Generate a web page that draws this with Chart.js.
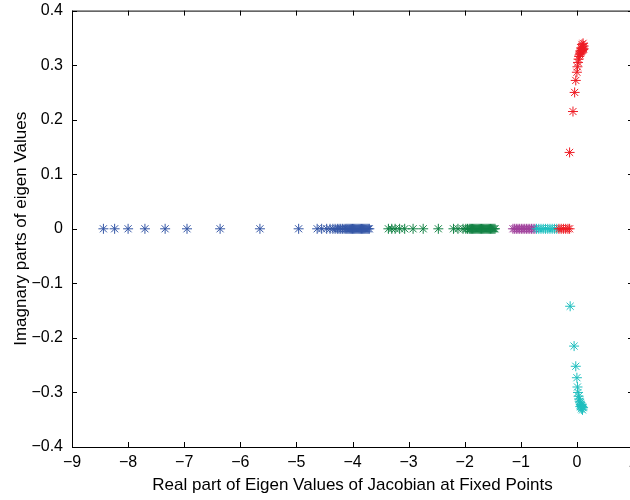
<!DOCTYPE html>
<html>
<head>
<meta charset="utf-8">
<script src="https://cdn.jsdelivr.net/npm/chart.js@4/dist/chart.umd.min.js"></script>
<style>
  html, body { margin: 0; padding: 0; background: #fff; overflow: hidden; }
  #wrap { width: 645px; height: 508px; margin-top: -8px; }
</style>
</head>
<body>
<div id="wrap"><canvas id="eigChart" width="645" height="508"></canvas></div>
<script>
// real eigenvalues (imaginary part 0)
const blueRe = [-8.44, -8.24, -8.0, -7.7, -7.34, -6.95, -6.36, -5.65, -4.96, -4.63, -4.55, -4.46, -4.4,
  -4.35, -4.31, -4.27, -4.24, -4.21, -4.18, -4.15, -4.12, -4.1, -4.08, -4.06, -4.04, -4.02, -4.0,
  -3.98, -3.96, -3.94, -3.92, -3.9, -3.88, -3.86, -3.84, -3.82, -3.8, -3.78, -3.76, -3.74, -3.72, -3.7];
const greenRe = [-3.36, -3.3, -3.24, -3.16, -3.07, -2.92, -2.74, -2.47, -2.2, -2.12, -2.03,
  -1.98, -1.95, -1.92, -1.9, -1.88, -1.86, -1.84, -1.82, -1.8, -1.78, -1.76, -1.74, -1.72, -1.7,
  -1.68, -1.66, -1.64, -1.62, -1.6, -1.58, -1.56, -1.54, -1.52, -1.5, -1.48, -1.46];
const magentaRe = [-1.14, -1.11, -1.08, -1.05, -1.02, -0.99, -0.96, -0.93, -0.9, -0.87, -0.84, -0.81, -0.78, -0.75];
const cyanRe = [-0.72, -0.68, -0.64, -0.6, -0.56, -0.52, -0.48, -0.44, -0.4, -0.36];
const redRe = [-0.32, -0.28, -0.24, -0.2, -0.16, -0.13];

// complex pairs
const redCplxRe = [-0.13, -0.07, -0.04, -0.02, 0.0, 0.01, 0.02, 0.03, 0.04, 0.05, 0.06, 0.07, 0.08, 0.09, 0.1, 0.11, 0.12, 0.06, 0.08, 0.1, 0.12, 0.09, 0.11];
const redCplxIm = [0.14, 0.215, 0.25, 0.272, 0.287, 0.297, 0.305, 0.311, 0.316, 0.319, 0.322, 0.324, 0.326, 0.327, 0.328, 0.329, 0.33, 0.326, 0.331, 0.333, 0.335, 0.338, 0.34];
const cyanCplxRe = [-0.12, -0.05, -0.02, 0.0, 0.01, 0.02, 0.03, 0.04, 0.05, 0.06, 0.07, 0.08, 0.09, 0.1, 0.11, 0.06, 0.08, 0.1];
const cyanCplxIm = [-0.142, -0.215, -0.252, -0.273, -0.29, -0.3, -0.307, -0.312, -0.316, -0.319, -0.322, -0.324, -0.326, -0.327, -0.328, -0.326, -0.33, -0.332];

const xTicks = [-9, -8, -7, -6, -5, -4, -3, -2, -1, 0, 1];
const yTicks = [-0.4, -0.3, -0.2, -0.1, 0, 0.1, 0.2, 0.3, 0.4];

const onAxis = arr => arr.map(v => ({ x: v, y: 0 }));
const pairs = (re, im) => re.map((v, i) => ({ x: v, y: im[i] }));
const fmt = v => (Math.abs(v) < 1e-9 ? "0" : String(Number(v.toFixed(1)))).replace("-", "\u2212");

function series(label, data, color) {
  return {
    label, data,
    pointStyle: "star", pointRadius: 5, pointHoverRadius: 5,
    borderColor: color, backgroundColor: color, borderWidth: 1, showLine: false
  };
}

// MATLAB-style box with inward ticks
const boxPlugin = {
  id: "box",
  afterDraw(chart) {
    const { ctx, chartArea: a, scales } = chart;
    ctx.save();
    ctx.strokeStyle = "#000";
    ctx.lineWidth = 1;
    ctx.strokeRect(a.left + 0.5, a.top + 0.5, a.right - a.left, a.bottom - a.top);
    ctx.beginPath();
    scales.x.ticks.forEach((t, i) => {
      const px = Math.round(scales.x.getPixelForTick(i)) + 0.5;
      ctx.moveTo(px, a.bottom); ctx.lineTo(px, a.bottom - 5);
      ctx.moveTo(px, a.top); ctx.lineTo(px, a.top + 5);
    });
    scales.y.ticks.forEach((t, i) => {
      const py = Math.round(scales.y.getPixelForTick(i)) + 0.5;
      ctx.moveTo(a.left, py); ctx.lineTo(a.left + 5, py);
      ctx.moveTo(a.right, py); ctx.lineTo(a.right - 5, py);
    });
    ctx.stroke();
    ctx.restore();
  }
};

const tickFont = { family: "'Liberation Sans', Arial, sans-serif", size: 16 };
const titleFont = { family: "'Liberation Sans', Arial, sans-serif", size: 17 };

new Chart(document.getElementById("eigChart"), {
  type: "scatter",
  data: {
    datasets: [
      series("red", onAxis(redRe).concat(pairs(redCplxRe, redCplxIm)), "#ee1c24"),
      series("cyan", onAxis(cyanRe).concat(pairs(cyanCplxRe, cyanCplxIm)), "#1fbfbf"),
      series("magenta", onAxis(magentaRe), "#a0409c"),
      series("green", onAxis(greenRe), "#128244"),
      series("blue", onAxis(blueRe), "#3456a6")
    ]
  },
  options: {
    responsive: false,
    animation: false,
    layout: { padding: { left: 11, top: 1, right: 12, bottom: 4 } },
    plugins: { legend: { display: false }, tooltip: { enabled: false } },
    scales: {
      x: {
        type: "linear", min: -9, max: 1,
        afterBuildTicks: s => { s.ticks = xTicks.map(v => ({ value: v })); },
        afterFit: s => { s.height = 49; },
        grid: { display: false, drawTicks: false },
        border: { display: false },
        ticks: { color: "#000", font: tickFont, padding: 6, maxRotation: 0, callback: v => fmt(v) },
        title: { display: true, text: "Real part of Eigen Values of Jacobian at Fixed Points", color: "#000", font: titleFont, padding: { top: 0, bottom: 0 } }
      },
      y: {
        type: "linear", min: -0.4, max: 0.4,
        afterBuildTicks: s => { s.ticks = yTicks.map(v => ({ value: v })); },
        afterFit: s => { s.width = 61; },
        grid: { display: false, drawTicks: false },
        border: { display: false },
        ticks: { color: "#000", font: tickFont, padding: 9, callback: v => fmt(v) },
        title: { display: true, text: "Imagnary parts of eigen Values", color: "#000", font: titleFont, padding: { top: 0, bottom: 0 } }
      }
    }
  },
  plugins: [boxPlugin]
});
</script>
</body>
</html>
